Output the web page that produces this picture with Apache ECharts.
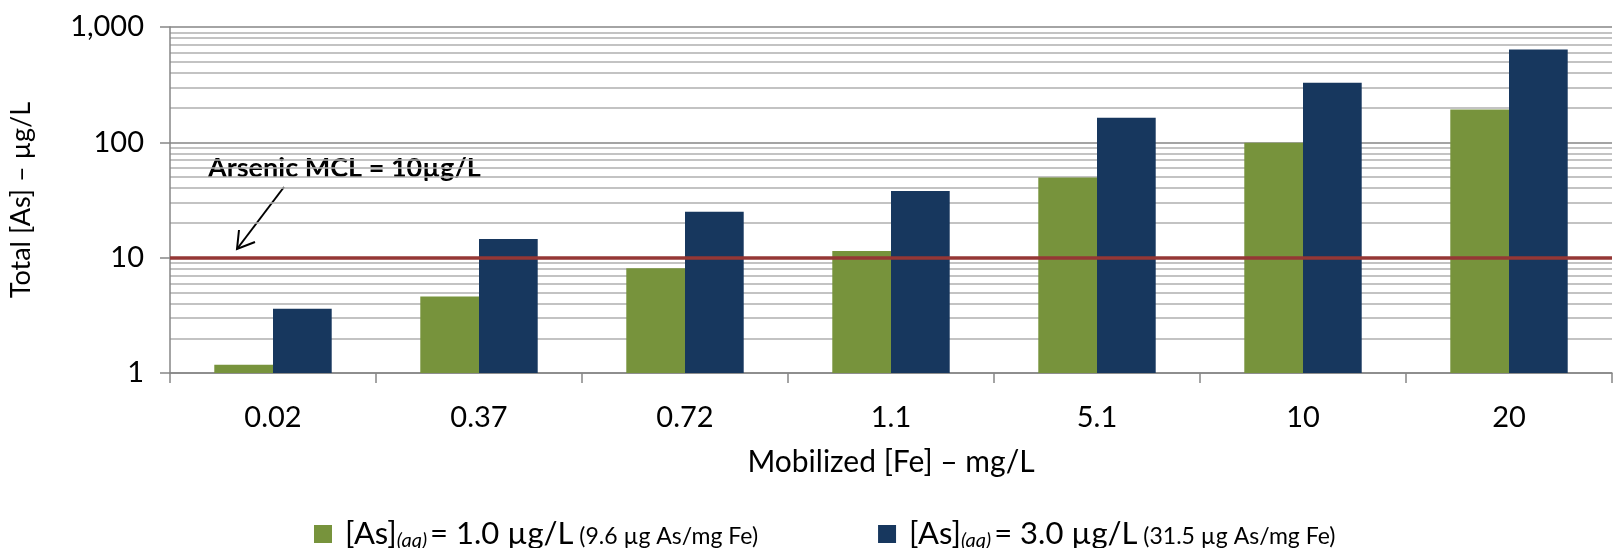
<!DOCTYPE html>
<html>
<head>
<meta charset="utf-8">
<title>Total As vs mobilized Fe</title>
<script src="https://cdn.jsdelivr.net/npm/echarts@6/dist/echarts.min.js"></script>
<style>
	html, body { margin: 0; padding: 0; background: #fff; }
	#chart { width: 1613px; height: 548px; }
</style>
</head>
<body>
<div id="chart"></div>
<script>
	// values
	var categories = ['0.02', '0.37', '0.72', '1.1', '5.1', '10', '20']
	var asLow = [1.18, 4.6, 8.1, 11.4, 49.5, 99, 193]
	var asHigh = [3.6, 14.5, 25, 37.8, 163, 328, 637]
	var mclValue = 10
	var seriesNames = ['low', 'high']

	var FONT = 'Lato'
	var axisGray = '#868686'

	var chart = echarts.init(document.getElementById('chart'))

	var option = {
		animation: false,
		textStyle: { fontFamily: FONT, color: '#000' },
		grid: {
			left: 170,
			right: 1,
			top: 27,
			bottom: 175
		},
		legend: {
			data: seriesNames,
			left: 309,
			top: 506,
			icon: 'rect',
			itemWidth: 18,
			itemHeight: 18,
			itemGap: 120,
			textStyle: {
				fontFamily: FONT,
				color: '#000',
				rich: {
					lead: { fontFamily: FONT, fontSize: 31, lineHeight: 34, verticalAlign: 'middle', padding: [0, 0, 0, 8], color: '#000' },
					main: { fontFamily: FONT, fontSize: 31, lineHeight: 34, verticalAlign: 'middle', color: '#000' },
					sub: { fontFamily: FONT, fontSize: 20, fontStyle: 'italic', lineHeight: 20, verticalAlign: 'bottom', padding: [20, 3, 0, 0], color: '#000' },
					small: { fontFamily: FONT, fontSize: 23, lineHeight: 23, verticalAlign: 'middle', padding: [6, 0, 0, 0], color: '#000' }
				}
			},
			formatter: function(name) {
				if (name === 'low') {
					return '{lead|[As]}{sub|(aq)}{main|= 1.0 µg/L}{small| (9.6 µg As/mg Fe)}'
				}
				return '{lead|[As]}{sub|(aq)}{main|= 3.0 µg/L}{small| (31.5 µg As/mg Fe)}'
			}
		},
		xAxis: {
			type: 'category',
			data: categories,
			name: 'Mobilized [Fe] – mg/L',
			nameLocation: 'middle',
			nameGap: 74,
			nameTextStyle: { fontFamily: FONT, fontSize: 30, color: '#000' },
			axisLine: { lineStyle: { color: axisGray, width: 1.5 } },
			axisTick: { show: true, interval: 0, length: 10, lineStyle: { color: axisGray, width: 1.5 } },
			axisLabel: { margin: 30, fontFamily: FONT, fontSize: 29, color: '#000' }
		},
		yAxis: {
			type: 'log',
			logBase: 10,
			min: 1,
			max: 1000,
			name: 'Total [As] – µg/L',
			nameLocation: 'middle',
			nameGap: 135,
			nameTextStyle: { fontFamily: FONT, fontSize: 27, color: '#000' },
			axisLine: { show: true, lineStyle: { color: axisGray, width: 1.5 } },
			axisTick: { show: true, length: 10, lineStyle: { color: axisGray, width: 1.5 } },
			axisLabel: {
				margin: 26,
				fontFamily: FONT,
				fontSize: 29,
				color: '#000',
				formatter: function(v) {
					return Number(v).toLocaleString('en-US')
				}
			},
			splitLine: { show: true, lineStyle: { color: axisGray, width: 1.5 } },
			minorTick: { show: false, splitNumber: 9 },
			minorSplitLine: { show: true, lineStyle: { color: '#b0b0b0', width: 1.5 } }
		},
		series: [
			{
				name: 'low',
				type: 'bar',
				data: asLow,
				barGap: '0%',
				barCategoryGap: '43%',
				itemStyle: { color: '#77933c' }
			},
			{
				name: 'high',
				type: 'bar',
				data: asHigh,
				itemStyle: { color: '#17375e' },
				// MCL 红线
				markLine: {
					silent: true,
					symbol: 'none',
					label: { show: false },
					lineStyle: { color: '#953735', width: 3.5, type: 'solid' },
					data: [{ yAxis: mclValue }]
				}
			}
		],
		graphic: [
			{
				type: 'text',
				x: 208,
				y: 168,
				style: {
					text: 'Arsenic MCL = 10µg/L',
					font: 'bold 27px Lato',
					fill: '#000',
					verticalAlign: 'middle'
				}
			},
			{
				type: 'polyline',
				shape: { points: [[284, 187], [237, 249]] },
				style: { stroke: '#000', lineWidth: 2, fill: null }
			},
			{
				type: 'polyline',
				shape: { points: [[239, 230], [237, 249], [255, 242]] },
				style: { stroke: '#000', lineWidth: 2, fill: null }
			}
		]
	}

	chart.setOption(option)
</script>
</body>
</html>
